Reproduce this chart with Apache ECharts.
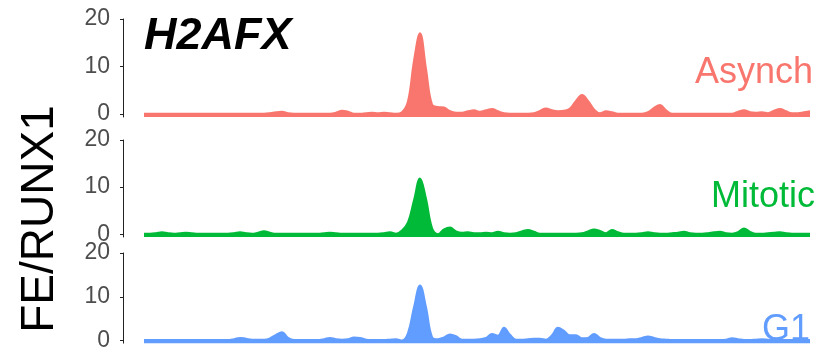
<!DOCTYPE html>
<html><head><meta charset="utf-8">
<script src="https://cdn.jsdelivr.net/npm/echarts@6/dist/echarts.min.js"></script>
<style>html,body{margin:0;padding:0;background:#fff}#c{width:826px;height:352px}</style>
</head><body><div id="c"></div>
<script>
const bins = Array.from({length: 112}, (_, i) => i);
const seriesNames = ['Asynch', 'Mitotic', 'G1'];
const seriesColors = ['#F8766D', '#00BA38', '#619CFF'];
const yTicks = [0, 10, 20];
const asynch = [0.1,0.1,0.1,0.1,0.1,0.1,0.1,0.1,0.1,0.1,0.1,0.1,0.1,0.1,0.1,0.1,0.1,0.1,0.1,0.1,
  0.1,0.2,0.4,0.5,0.2,0.1,0.1,0.1,0.1,0.1,0.1,0.1,0.3,0.7,0.5,0.1,0.1,0.2,0.3,0.2,
  0.3,0.2,0.1,0.4,2.7,11.2,17.0,9.5,2.0,1.5,1.4,0.6,0.3,0.3,0.6,0.8,0.5,0.8,1.1,0.6,
  0.2,0.1,0.1,0.1,0.1,0.2,0.7,1.2,0.8,0.6,0.7,1.2,2.8,4.0,2.8,1.0,0.2,0.6,0.4,0.1,
  0.1,0.1,0.1,0.1,0.4,1.3,1.9,0.8,0.1,0.1,0.1,0.1,0.1,0.1,0.1,0.1,0.1,0.1,0.1,0.5,
  0.8,0.4,0.3,0.4,0.2,0.7,1.1,0.6,0.2,0.2,0.4,0.6];
const mitotic = [0.1,0.1,0.2,0.4,0.2,0.1,0.2,0.3,0.2,0.1,0.1,0.1,0.1,0.1,0.1,0.2,0.4,0.2,0.1,0.3,
  0.6,0.3,0.1,0.1,0.1,0.1,0.1,0.1,0.1,0.1,0.2,0.3,0.2,0.1,0.1,0.1,0.1,0.1,0.1,0.1,
  0.2,0.4,0.1,0.8,2.5,7.2,11.8,7.5,1.3,0.0,1.0,1.4,0.6,0.3,0.4,0.2,0.2,0.3,0.2,0.5,
  0.2,0.1,0.2,0.6,0.9,0.5,0.1,0.1,0.1,0.1,0.1,0.1,0.1,0.2,0.6,1.0,0.7,0.2,0.9,0.4,
  0.1,0.1,0.1,0.2,0.4,0.2,0.1,0.1,0.2,0.3,0.5,0.2,0.1,0.1,0.2,0.4,0.5,0.2,0.1,0.4,
  1.2,0.5,0.1,0.1,0.2,0.3,0.4,0.2,0.1,0.1,0.1,0.1];
const g1 = [0.1,0.1,0.1,0.1,0.1,0.1,0.1,0.1,0.1,0.1,0.1,0.1,0.1,0.1,0.1,0.3,0.6,0.4,0.2,0.2,
  0.2,0.5,1.3,1.9,0.6,0.1,0.1,0.1,0.1,0.1,0.3,0.6,0.3,0.2,0.3,0.7,0.6,0.2,0.1,0.1,
  0.1,0.2,0.3,0.0,1.7,7.6,12.6,7.6,0.8,0.3,0.7,1.4,1.0,0.2,0.2,0.2,0.3,0.6,1.5,1.1,
  2.9,1.3,0.2,0.2,0.3,0.4,0.4,0.2,1.2,2.9,2.2,1.2,1.2,0.5,0.6,1.5,0.6,0.2,0.2,0.2,
  0.2,0.3,0.3,0.6,0.9,0.6,0.3,0.2,0.1,0.1,0.1,0.1,0.1,0.1,0.1,0.1,0.1,0.2,0.5,0.3,
  0.1,0.1,0.2,0.3,0.2,0.1,0.1,0.1,0.1,0.1,0.1,0.1];
const allData = [asynch, mitotic, g1];

const FONT = '"Liberation Sans", Arial, sans-serif';
const grids = [{top: 19, height: 98}, {top: 140, height: 97}, {top: 253, height: 98}];
const labelPos = [{right: 13, y: 73.5}, {right: 11, y: 197.5}, {right: 16, y: 330}];

const chart = echarts.init(document.getElementById('c'), null, {renderer: 'canvas'});
const option = {
  animation: false,
  backgroundColor: '#fff',
  grid: grids.map(g => ({left: 144, right: 16, top: g.top, height: g.height})),
  xAxis: grids.map((g, k) => ({type: 'category', gridIndex: k, data: bins, boundaryGap: false, show: false})),
  yAxis: grids.map((g, k) => ({
    type: 'value', gridIndex: k, min: -0.6, max: 20, offset: 21,
    axisLine: {show: true, lineStyle: {color: '#222', width: 1}},
    axisTick: {show: true, length: 3, customValues: yTicks, lineStyle: {color: '#222', width: 1}},
    axisLabel: {show: true, customValues: yTicks, margin: 13, color: '#4D4D4D', fontSize: 23, fontFamily: FONT},
    splitLine: {show: false}
  })),
  series: allData.map((d, k) => ({
    type: 'line', name: seriesNames[k], xAxisIndex: k, yAxisIndex: k, data: d,
    smooth: 0.4, symbol: 'none',
    lineStyle: {color: seriesColors[k], width: 2},
    areaStyle: {color: seriesColors[k], opacity: 1, origin: 'start'}
  })),
  graphic: [
    {type: 'text', x: 144, y: 37, style: {text: 'H2AFX', font: 'italic bold 45px ' + FONT, fill: '#000', align: 'left', verticalAlign: 'middle'}},
    {type: 'text', x: 40, y: 219, rotation: Math.PI / 2,
      style: {text: 'FE/RUNX1', font: '46px ' + FONT, fill: '#000', align: 'center', verticalAlign: 'middle'}}
  ].concat(seriesNames.map((n, k) => ({
    type: 'text', x: 826 - labelPos[k].right, y: labelPos[k].y,
    style: {text: n, font: '36px ' + FONT, fill: seriesColors[k], align: 'right', verticalAlign: 'middle'}
  })))
};
chart.setOption(option);
</script></body></html>
